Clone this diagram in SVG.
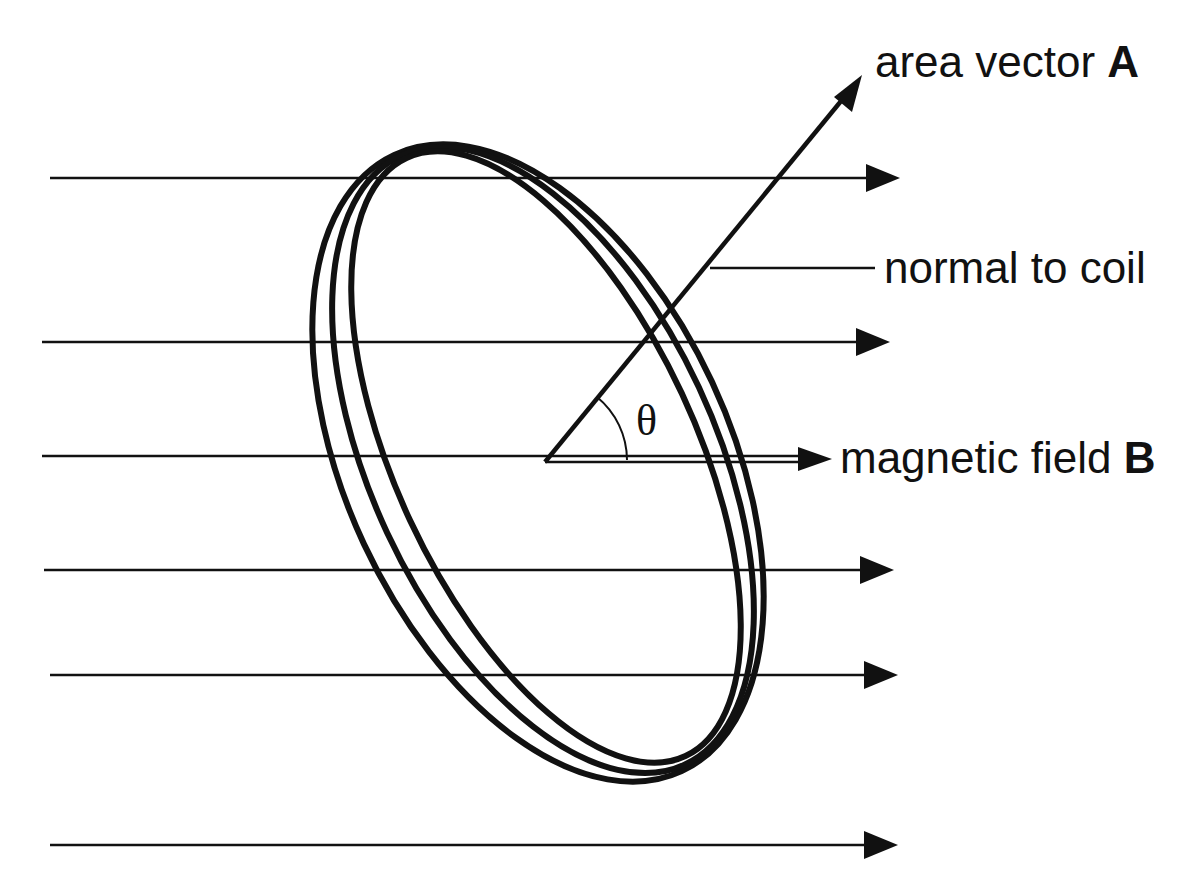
<svg xmlns="http://www.w3.org/2000/svg" width="1200" height="896" viewBox="0 0 1200 896">
<defs>
<marker id="ah" markerWidth="34" markerHeight="28" refX="2" refY="14" orient="auto" markerUnits="userSpaceOnUse" viewBox="0 0 34 28"><path d="M0,0 L34,14 L0,28 z" fill="#111"/></marker>
<style>
.f{stroke:#111;stroke-width:2.5;fill:none}
.r{stroke:#111;stroke-width:6;fill:none}
.t{font-family:"Liberation Sans",Arial,sans-serif;font-size:44px;fill:#111}
</style>
</defs>
<rect width="1200" height="896" fill="#fff"/>
<g id="coil">
<ellipse class="r" cx="538" cy="463" rx="192" ry="340" transform="rotate(-25 538 463)"/>
<ellipse class="r" cx="543" cy="460" rx="172" ry="336" transform="rotate(-25 543 460)"/>
<ellipse class="r" cx="546" cy="457" rx="150" ry="330" transform="rotate(-25 546 457)"/>
</g>
<g id="connectors">
<path class="f" d="M50,178 H868" marker-end="url(#ah)"/>
<path class="f" d="M42,342 H858" marker-end="url(#ah)"/>
<path class="f" d="M42,456 H545"/>
<path class="f" d="M545,456 H800 M545,462 H800"/>
<path d="M798,447 L832,459 L798,471 z" fill="#111"/>
<path class="f" d="M44,570 H862" marker-end="url(#ah)"/>
<path class="f" d="M50,675 H866" marker-end="url(#ah)"/>
<path class="f" d="M50,845 H866" marker-end="url(#ah)"/>
<path d="M545,462 L846,95" stroke="#111" stroke-width="4.5" fill="none"/>
<path d="M862,75 L852,112 L834,97 z" fill="#111"/>
<path class="f" d="M710,268 H875"/>
<path d="M597,397 A82,82 0 0 1 627,460" stroke="#111" stroke-width="2" fill="none"/>
</g>
<g id="labels">
<text class="t" x="875" y="77" font-size="45">area vector <tspan font-weight="bold">A</tspan></text>
<text class="t" x="884" y="283">normal to coil</text>
<text class="t" x="840" y="473">magnetic field <tspan font-weight="bold">B</tspan></text>
<text x="636" y="435" font-family="Liberation Serif,serif" font-size="44" fill="#111">θ</text>
</g>
</svg>
